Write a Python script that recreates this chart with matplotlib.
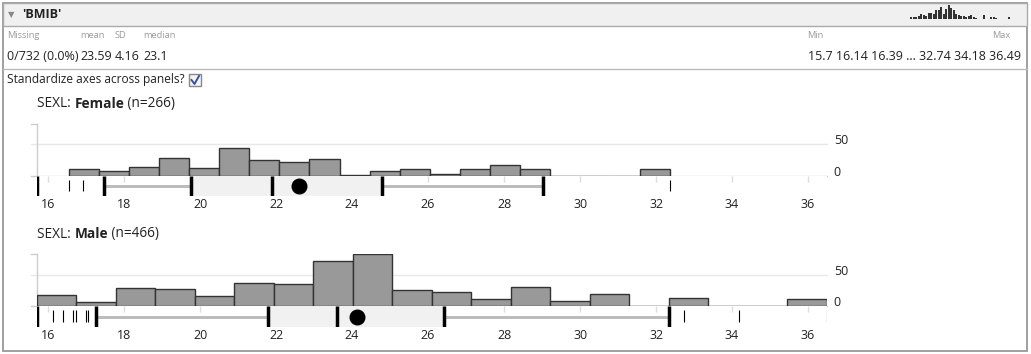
import numpy as np
import matplotlib.pyplot as plt
from matplotlib.patches import Rectangle

plt.rcParams['font.family'] = ['Open Sans', 'DejaVu Sans']

W, H = 1031, 354

# Dados
variable = "'BMIB'"
x_min, x_max = 15.7, 36.49
tick_values = [16, 18, 20, 22, 24, 26, 28, 30, 32, 34, 36]

stat_labels = ['Missing', 'mean', 'SD', 'median']
stat_values = ['0/732 (0.0%)', '23.59', '4.16', '23.1']
extremes_text = '15.7 16.14 16.39 ... 32.74 34.18 36.49'

# mini histograma do cabeçalho (toda a amostra)
mini_counts = [2, 2, 2, 3, 5, 4, 3, 6, 6, 5, 8, 8, 11, 5, 9, 13, 10, 8, 5, 4,
               3, 3, 2, 3, 4, 2, 1, 0, 0, 4, 0, 0, 2, 2, 1, 0, 0, 0, 0, 2]

female_range = (16.55, 32.37)
female_counts = [11, 8, 15, 29, 12, 44, 25, 22, 27, 1,
                 8, 11, 3, 11, 17, 11, 0, 0, 0, 11]
female_box = [17.47, 19.77, 21.9, 24.79, 29.03]   # whisker, Q1, mediana, Q3, whisker
female_mean = 22.6
female_outliers = [16.55, 16.92, 32.37]

male_range = (15.7, 36.49)
male_counts = [18, 7, 29, 27, 16, 37, 35, 72, 83, 26,
               23, 11, 30, 8, 20, 0, 13, 0, 0, 11]
male_box = [17.26, 21.79, 23.6, 26.41, 32.34]
male_mean = 24.13
male_outliers = [16.14, 16.39, 16.66, 16.73, 16.99, 17.05, 32.74, 34.18, 36.49]

y_max = 83

fig = plt.figure(figsize=(W / 100, H / 100), dpi=100)


def px_axes(x0, y0, x1, y1):
    return fig.add_axes([x0 / W, 1 - y1 / H, (x1 - x0) / W, (y1 - y0) / H])


# Fundo / moldura em coordenadas de pixel
bg = fig.add_axes([0, 0, 1, 1])
bg.set_xlim(0, W)
bg.set_ylim(H, 0)
bg.axis('off')
bg.add_patch(Rectangle((3, 3), 1024, 348, fill=False, edgecolor='#999999', lw=1.3))
bg.add_patch(Rectangle((3, 3), 1024, 23, facecolor='#f0f0f0', edgecolor='#aaaaaa', lw=1))
bg.plot([3, 1027], [68.5, 68.5], color='#bbbbbb', lw=1)

bg.text(8, 14.5, '▼', fontsize=6, color='#888888', va='center', family=['DejaVu Sans'])
bg.text(22, 14.5, variable, fontsize=9, fontweight='bold', color='#222222', va='center')

for lab, val, x in zip(stat_labels, stat_values, [7, 80, 115, 143]):
    bg.text(x, 36, lab, fontsize=6.7, color='#9a9a9a', va='center')
    bg.text(x, 56, val, fontsize=9, color='#222222', va='center')
bg.text(807, 36, 'Min', fontsize=6.7, color='#9a9a9a', va='center')
bg.text(1010, 36, 'Max', fontsize=6.7, color='#9a9a9a', va='center', ha='right')
bg.text(1021, 56, extremes_text, fontsize=9, color='#222222', va='center', ha='right')

bg.text(7, 80, 'Standardize axes across panels?', fontsize=8.6, color='#222222', va='center')
bg.add_patch(Rectangle((189, 74), 12, 12, facecolor='#f4f4f4', edgecolor='#888888', lw=1))
bg.plot([191.5, 194.5, 199], [80, 84, 76], color='#3b4f9a', lw=1.4)

# mini histograma
mini = px_axes(910, 5, 1010, 19)
mini.bar(np.arange(len(mini_counts)), mini_counts, width=0.75, color='#333333')
mini.set_xlim(-0.5, len(mini_counts) - 0.5)
mini.set_ylim(0, max(mini_counts))
mini.axis('off')


def px_of(v):
    return 36.7 + (v - x_min) * 38


def panel(group, n, rng, counts, box, mean, outliers, y_hist0, y_base, y_box1):
    # histograma
    ax = px_axes(px_of(x_min), y_hist0, px_of(x_max), y_base)
    edges = np.linspace(rng[0], rng[1], len(counts) + 1)
    ax.plot([x_min - 0.15, x_max], [50, 50], color='#e8e8e8', lw=1, zorder=0, clip_on=False)
    ax.plot([x_min - 0.15, x_max], [0, 0], color='#cccccc', lw=1, zorder=0, clip_on=False)
    ax.plot([x_min, x_min], [0, y_max], color='#cccccc', lw=1, zorder=0, clip_on=False)
    ax.plot([x_min - 0.15, x_min], [y_max, y_max], color='#cccccc', lw=1, zorder=0, clip_on=False)
    ax.bar(edges[:-1], counts, width=np.diff(edges), align='edge',
           color='#999999', edgecolor='#333333', linewidth=1.0, zorder=2)
    ax.set_xlim(x_min, x_max)
    ax.set_ylim(0, y_max)
    ax.axis('off')
    for v in [50, 0]:
        ax.text(1 + 7 / 790, v, str(v), transform=ax.get_yaxis_transform(),
                fontsize=9, color='#222222', va='baseline', ha='left')

    # título
    t1 = bg.text(37, y_hist0 - 20, 'SEXL: ', fontsize=9.8, color='#222222', va='center')
    t2 = bg.annotate(group, xy=(1, 0), xycoords=t1, va='bottom', fontsize=9.8,
                     fontweight='bold', color='#222222')
    bg.annotate(f' (n={n})', xy=(1, 0), xycoords=t2, va='bottom', fontsize=9.8, color='#222222')

    # boxplot horizontal
    bx = px_axes(px_of(x_min), y_base, px_of(x_max), y_box1)
    bx.set_xlim(x_min, x_max)
    bx.set_ylim(0, 1)
    bx.vlines(tick_values, 0.7, 1.0, color='#dddddd', lw=1, zorder=0)
    wlo, q1, med, q3, whi = box
    bx.axvspan(q1, q3, color='#f1f1f1', zorder=1)
    bx.plot([wlo, q1], [0.5, 0.5], color='#bbbbbb', lw=2.1, zorder=2, solid_capstyle='butt')
    bx.plot([q3, whi], [0.5, 0.5], color='#bbbbbb', lw=2.1, zorder=2, solid_capstyle='butt')
    bx.vlines([x_min] + list(box), 0, 1, color='black', lw=2.5, zorder=3)
    bx.vlines(outliers, 0.25, 0.8, color='black', lw=0.8, zorder=3)
    bx.plot(mean, 0.5, 'o', ms=10.5, color='black', zorder=4)
    for s in bx.spines.values():
        s.set_visible(False)
    bx.set_yticks([])
    bx.set_xticks(tick_values)
    bx.tick_params(axis='x', length=0, pad=1.5, labelsize=9, labelcolor='#222222')


panel('Female', 266, female_range, female_counts, female_box, female_mean,
      female_outliers, 123.7, 176, 196)
panel('Male', 466, male_range, male_counts, male_box, male_mean,
      male_outliers, 254, 306.3, 326.7)

plt.savefig('out.png', dpi=100)
